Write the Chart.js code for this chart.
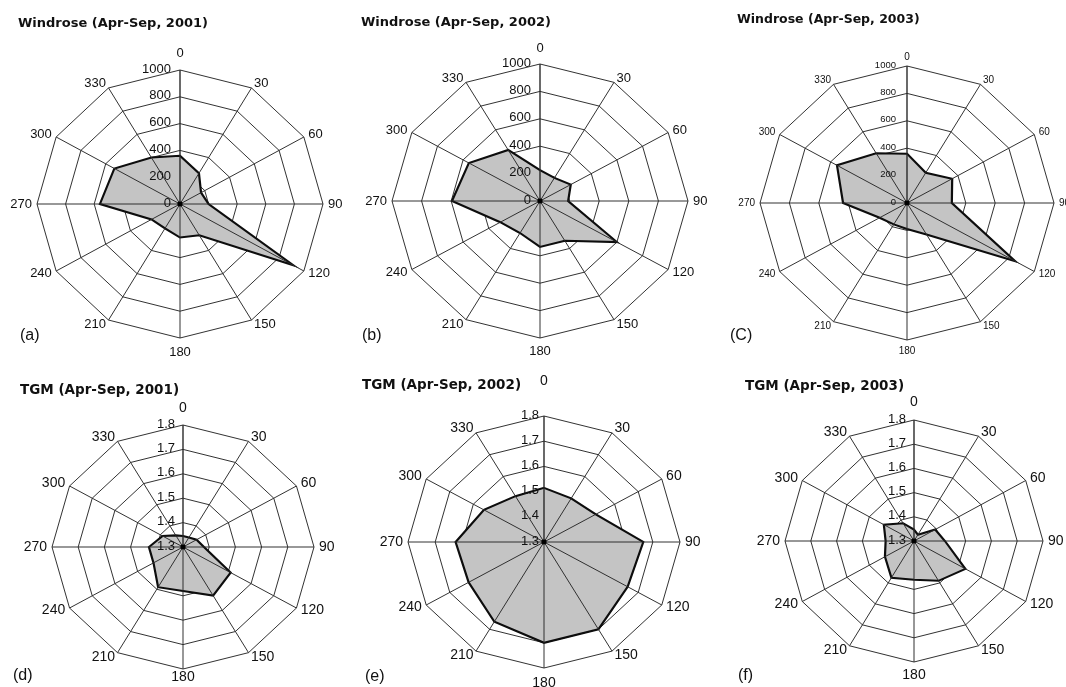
<!DOCTYPE html>
<html>
<head>
<meta charset="utf-8">
<title>Windrose and TGM, Apr-Sep 2001-2003</title>
<script src="https://cdn.jsdelivr.net/npm/chart.js@4.4.1/dist/chart.umd.min.js"></script>
<style>
  html, body { margin: 0; padding: 0; background: #fff; }
  #page { position: relative; width: 1066px; height: 687px; overflow: hidden; }
  #page canvas { position: absolute; left: 0; top: 0; width: 1066px; height: 687px; }
  .title { position: absolute; font: bold 13px "DejaVu Sans", sans-serif; line-height: 13px; color: #111; white-space: nowrap; z-index: 5; }
  .tag { position: absolute; font: 16px "Liberation Sans", Arial, sans-serif; line-height: 16px; color: #111; z-index: 5; }
</style>
</head>
<body>
<div id="page">
  <canvas id="roseA" width="1066" height="687"></canvas>
  <canvas id="roseB" width="1066" height="687"></canvas>
  <canvas id="roseC" width="1066" height="687"></canvas>
  <canvas id="roseD" width="1066" height="687"></canvas>
  <canvas id="roseE" width="1066" height="687"></canvas>
  <canvas id="roseF" width="1066" height="687"></canvas>

  <div class="title" style="left:18px; top:16px;">Windrose (Apr-Sep, 2001)</div>
  <div class="title" style="left:361px; top:15px;">Windrose (Apr-Sep, 2002)</div>
  <div class="title" style="left:737px; top:12px; font-size:12.5px;">Windrose (Apr-Sep, 2003)</div>
  <div class="title" style="left:20px; top:383px; font-size:13.5px;">TGM (Apr-Sep, 2001)</div>
  <div class="title" style="left:362px; top:378px; font-size:13.5px;">TGM (Apr-Sep, 2002)</div>
  <div class="title" style="left:745px; top:379px; font-size:13.5px;">TGM (Apr-Sep, 2003)</div>

  <div class="tag" style="left:20px; top:327px;">(a)</div>
  <div class="tag" style="left:362px; top:327px;">(b)</div>
  <div class="tag" style="left:730px; top:327px;">(C)</div>
  <div class="tag" style="left:13px; top:667px;">(d)</div>
  <div class="tag" style="left:365px; top:668px;">(e)</div>
  <div class="tag" style="left:738px; top:667px;">(f)</div>
</div>

<script>
// wind direction categories (degrees)
const directions = ["0", "30", "60", "90", "120", "150", "180", "210", "240", "270", "300", "330"];

// windrose counts per direction
const wind2001 = [360, 265, 170, 200, 915, 270, 250, 210, 230, 560, 530, 400];
const wind2002 = [225, 195, 240, 190, 600, 335, 335, 270, 310, 595, 555, 430];
const wind2003 = [360, 255, 355, 305, 850, 265, 190, 180, 215, 435, 550, 420];

// mean TGM per direction (ng/m3)
const tgm2001 = [1.345, 1.345, 1.36, 1.38, 1.51, 1.53, 1.48, 1.49, 1.43, 1.43, 1.39, 1.355];
const tgm2002 = [1.515, 1.50, 1.52, 1.665, 1.655, 1.70, 1.70, 1.665, 1.62, 1.625, 1.555, 1.51];
const tgm2003 = [1.347, 1.33, 1.395, 1.42, 1.53, 1.49, 1.46, 1.475, 1.43, 1.41, 1.435, 1.385];

// radial axis ticks
const windTicks = [0, 200, 400, 600, 800, 1000];
const tgmTicks = [1.3, 1.4, 1.5, 1.6, 1.7, 1.8];

const W = 1066, H = 687;
const FONT = '"Liberation Sans", Arial, sans-serif';

// the scanned figure is a bit wider than tall, so squash each rose vertically
const roseLook = {
    id: "roseLook",
    beforeDraw(chart, args, opts) {
        const r = chart.scales.r;
        const ctx = chart.ctx;
        ctx.save();
        ctx.translate(r.xCenter, r.yCenter);
        ctx.scale(1, opts.squash);
        ctx.translate(-r.xCenter, -r.yCenter);
    },
    afterDatasetsDraw(chart, args, opts) {
        // spokes sit on top of the shaded area in the original
        const r = chart.scales.r;
        const ctx = chart.ctx;
        ctx.save();
        ctx.strokeStyle = "#2a2a2a";
        for (let i = 0; i < chart.data.labels.length; i++) {
            const p = r.getPointPosition(i, r.drawingArea);
            ctx.lineWidth = i === 0 ? 1.4 : 1;
            ctx.beginPath();
            ctx.moveTo(r.xCenter, r.yCenter);
            ctx.lineTo(p.x, p.y);
            ctx.stroke();
        }
        ctx.fillStyle = "#000";
        ctx.beginPath();
        ctx.arc(r.xCenter, r.yCenter, 2.6, 0, Math.PI * 2);
        ctx.fill();
        ctx.restore();
    },
    afterDraw(chart, args, opts) {
        const r = chart.scales.r;
        const ctx = chart.ctx;
        ctx.restore();

        const cx = r.xCenter, cy = r.yCenter;
        const rh = r.drawingArea, rv = r.drawingArea * opts.squash;
        ctx.save();
        ctx.fillStyle = "#111";

        // direction labels round the outside
        ctx.font = `${opts.labelFont}px ${FONT}`;
        const n = chart.data.labels.length;
        chart.data.labels.forEach((lab, i) => {
            const a = i * 2 * Math.PI / n;
            const s = Math.sin(a), c = Math.cos(a);
            if (Math.abs(s) < 1e-6) {
                ctx.textAlign = "center";
                if (c > 0) {
                    ctx.textBaseline = "bottom";
                    ctx.fillText(lab, cx, cy - rv - opts.topPad);
                } else {
                    ctx.textBaseline = "top";
                    ctx.fillText(lab, cx, cy + rv + opts.bottomPad);
                }
                return;
            }
            ctx.textAlign = s > 0 ? "left" : "right";
            ctx.textBaseline = "middle";
            ctx.fillText(lab, cx + s * (rh + opts.sidePad), cy - c * (rv + opts.sidePad));
        });

        // value labels along the 0 spoke
        ctx.font = `${opts.tickFont}px ${FONT}`;
        ctx.textAlign = "right";
        ctx.textBaseline = "middle";
        r.ticks.forEach(t => {
            const d = r.getDistanceFromCenterForValue(t.value) * opts.squash;
            ctx.fillText(opts.format(t.value), cx - opts.tickGap, cy - d - 1);
        });
        ctx.restore();
    }
};

function makeRose(canvasId, values, ticks, p) {
    const ctx = document.getElementById(canvasId).getContext("2d");
    return new Chart(ctx, {
        type: "radar",
        data: {
            labels: directions,
            datasets: [{
                data: values,
                fill: "start",
                backgroundColor: "#c4c4c4",
                borderColor: "#0d0d0d",
                borderWidth: 2.2,
                pointRadius: 0,
                pointHoverRadius: 0,
                tension: 0
            }]
        },
        options: {
            responsive: false,
            animation: false,
            devicePixelRatio: 1,
            events: [],
            layout: {
                padding: {
                    left: p.cx - p.rh,
                    right: W - p.cx - p.rh,
                    top: p.cy - p.rh,
                    bottom: H - p.cy - p.rh
                }
            },
            plugins: {
                legend: { display: false },
                tooltip: { enabled: false },
                roseLook: {
                    squash: p.rv / p.rh,
                    labelFont: p.labelFont,
                    tickFont: p.tickFont,
                    tickGap: p.tickGap,
                    topPad: p.topPad,
                    bottomPad: p.bottomPad,
                    sidePad: 5,
                    format: p.format
                }
            },
            scales: {
                r: {
                    min: ticks[0],
                    max: ticks[ticks.length - 1],
                    afterBuildTicks: scale => {
                        scale.ticks = ticks.map(v => ({ value: v }));
                    },
                    ticks: { display: false },
                    pointLabels: { display: false },
                    angleLines: { display: false },
                    grid: { color: "#2a2a2a", lineWidth: 1 }
                }
            }
        },
        plugins: [roseLook]
    });
}

const windFmt = v => String(v);
const tgmFmt = v => v.toFixed(1);

makeRose("roseA", wind2001, windTicks, { cx: 180, cy: 204, rh: 143, rv: 134, labelFont: 13, tickFont: 13, tickGap: 9, topPad: 10, bottomPad: 8, format: windFmt });
makeRose("roseB", wind2002, windTicks, { cx: 540, cy: 201, rh: 148, rv: 137, labelFont: 13, tickFont: 13, tickGap: 9, topPad: 9, bottomPad: 7, format: windFmt });
makeRose("roseC", wind2003, windTicks, { cx: 907, cy: 203, rh: 147, rv: 137, labelFont: 10, tickFont: 9.5, tickGap: 11, topPad: 4, bottomPad: 6, format: windFmt });
makeRose("roseD", tgm2001, tgmTicks, { cx: 183, cy: 547, rh: 131, rv: 122, labelFont: 14, tickFont: 13, tickGap: 8, topPad: 10, bottomPad: 1, format: tgmFmt });
makeRose("roseE", tgm2002, tgmTicks, { cx: 544, cy: 542, rh: 136, rv: 126, labelFont: 14, tickFont: 13, tickGap: 5, topPad: 28, bottomPad: 8, format: tgmFmt });
makeRose("roseF", tgm2003, tgmTicks, { cx: 914, cy: 541, rh: 129, rv: 121, labelFont: 14, tickFont: 13, tickGap: 8, topPad: 11, bottomPad: 6, format: tgmFmt });
</script>
</body>
</html>
